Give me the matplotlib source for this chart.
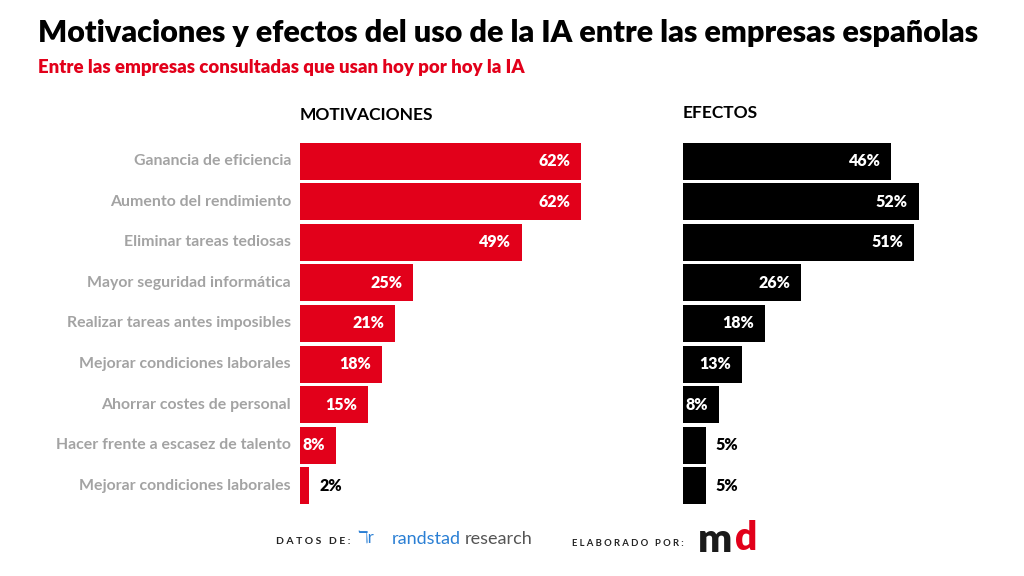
import matplotlib
matplotlib.use("Agg")
import matplotlib.pyplot as plt
import numpy as np

categorias = [
    "Ganancia de eficiencia",
    "Aumento del rendimiento",
    "Eliminar tareas tediosas",
    "Mayor seguridad informática",
    "Realizar tareas antes imposibles",
    "Mejorar condiciones laborales",
    "Ahorrar costes de personal",
    "Hacer frente a escasez de talento",
    "Mejorar condiciones laborales",
]
motivaciones = [62, 62, 49, 25, 21, 18, 15, 8, 2]
efectos = [46, 52, 51, 26, 18, 13, 8, 5, 5]

ROJO = "#e2001a"
NEGRO = "#000000"
GRIS = "#a3a3a3"

plt.rcParams['font.family'] = ['Lato', 'DejaVu Sans']

W, H = 1024, 576
fig = plt.figure(figsize=(W / 100, H / 100), dpi=100)
fig.patch.set_facecolor("white")

# escala comun: ~4.53 px por punto porcentual
px_pct = 4.53
top, bottom = 141, 506
ax1 = fig.add_axes([300 / W, 1 - bottom / H, 330 / W, (bottom - top) / H])
ax2 = fig.add_axes([683 / W, 1 - bottom / H, 300 / W, (bottom - top) / H])

y = np.arange(len(categorias))


def panel(ax, valores, color, ancho_px, umbral):
    ax.barh(y, valores, height=0.91, color=color, left=0)
    ax.set_xlim(0, ancho_px / px_pct)
    ax.set_ylim(len(valores) - 0.5, -0.5)
    ax.axis("off")
    for yi, v in zip(y, valores):
        if v > umbral:
            ax.text(v - 2.4, yi, f"{v}%", ha="right", va="center",
                    color="white", fontsize=11.5, fontweight="heavy")
        else:
            ax.text(v + 2.2, yi, f"{v}%", ha="left", va="center",
                    color="black", fontsize=11.5, fontweight="heavy")


panel(ax1, motivaciones, ROJO, 330, 5)
panel(ax2, efectos, NEGRO, 300, 6)

for yi, cat in zip(y, categorias):
    ax1.text(-2.0, yi, cat, ha="right", va="center", color=GRIS,
             fontsize=11.4, fontweight="bold")

# titulos
fig.text(38 / W, 1 - 33 / H, "Motivaciones y efectos del uso de la IA entre las empresas españolas",
         ha="left", va="center", fontsize=22, fontweight="heavy", color="black")
fig.text(38 / W, 1 - 67 / H, "Entre las empresas consultadas que usan hoy por hoy la IA",
         ha="left", va="center", fontsize=13.4, fontweight="heavy", color=ROJO)
fig.text(300 / W, 1 - 115 / H, "MOTIVACIONES", ha="left", va="center",
         fontsize=12.5, fontweight="bold", color="black")
fig.text(683 / W, 1 - 113 / H, "EFECTOS", ha="left", va="center",
         fontsize=12.5, fontweight="bold", color="black")

# pie
fig.text(276 / W, 1 - 541 / H, "D A T O S   D E :", ha="left", va="center",
         fontsize=7.5, fontweight="bold", color="#222222")
fig.text(357 / W, 1 - 539 / H, "ℸr", ha="left", va="center",
         fontsize=12, color="#2a7fd4")
fig.text(392 / W, 1 - 539 / H, "randstad", ha="left", va="center",
         fontsize=13, color="#2a7fd4")
fig.text(465 / W, 1 - 539 / H, "research", ha="left", va="center",
         fontsize=13, color="#555555")
fig.text(572 / W, 1 - 543 / H, "E L A B O R A D O   P O R :", ha="left", va="center",
         fontsize=6.8, fontweight="bold", color="#222222")
fig.text(698 / W, 1 - 541 / H, "m", ha="left", va="center",
         fontsize=29, fontweight="heavy", color="#1a1a1a")
fig.text(735 / W, 1 - 538 / H, "d", ha="left", va="center",
         fontsize=28, fontweight="heavy", color=ROJO)

fig.savefig("out.png", dpi=100, facecolor="white")
